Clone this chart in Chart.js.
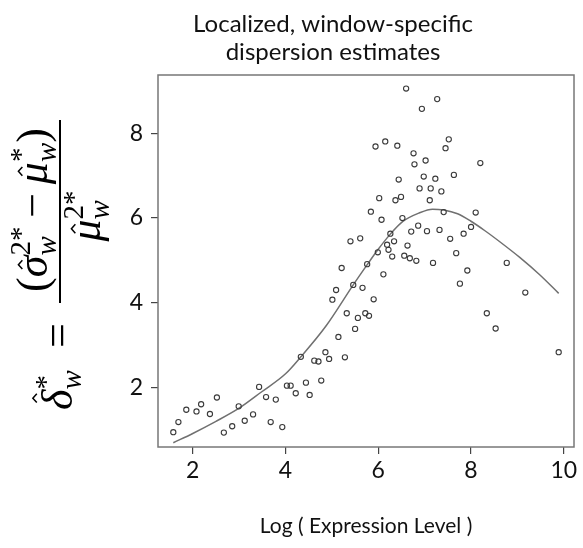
<!DOCTYPE html>
<html>
<head>
<meta charset="utf-8">
<script src="https://cdn.jsdelivr.net/npm/chart.js@4"></script>
<style>
  html, body { margin: 0; padding: 0; background: #fff; }
</style>
</head>
<body>
<canvas id="dispChart" width="583" height="548"></canvas>
<script>
// window level (x) and dispersion estimate (y) for each window
const exprLevel = [1.58,1.69,1.86,2.08,2.18,2.37,2.52,2.67,2.85,2.99,
  3.12,3.30,3.43,3.58,3.68,3.79,3.93,4.03,4.11,4.22,
  4.33,4.44,4.52,4.62,4.71,4.77,4.86,4.94,5.01,5.09,
  5.14,5.21,5.28,5.32,5.40,5.46,5.50,5.56,5.61,5.66,
  5.72,5.80,5.90,5.76,5.84,5.94,5.99,6.02,6.07,6.11,
  6.15,6.19,6.22,6.26,6.30,6.34,6.37,6.41,6.44,6.49,
  6.52,6.56,6.60,6.63,6.68,6.71,6.76,6.78,6.82,6.86,
  6.89,6.94,6.98,7.02,7.05,7.11,7.13,7.18,7.23,7.27,
  7.32,7.36,7.41,7.45,7.52,7.55,7.63,7.68,7.76,7.84,
  7.92,8.00,8.10,8.20,8.34,8.53,8.77,9.17,9.89];
const dispersion = [0.94,1.18,1.47,1.43,1.60,1.37,1.76,0.93,1.08,1.55,
  1.21,1.36,2.01,1.77,1.18,1.71,1.06,2.04,2.04,1.86,
  2.72,2.11,1.82,2.63,2.61,2.16,2.83,2.67,4.07,4.30,
  3.19,4.82,2.71,3.75,5.45,4.42,3.38,3.64,5.52,4.35,
  3.75,3.69,4.08,4.91,6.15,7.69,5.19,6.47,5.96,4.67,
  7.81,5.37,5.25,5.63,5.09,5.45,6.42,7.71,6.91,6.50,
  6.00,5.11,9.06,5.35,5.05,5.68,7.53,7.27,4.99,5.82,
  6.70,8.58,6.98,7.36,5.69,6.42,6.70,4.94,6.93,8.81,
  5.72,6.63,6.14,7.65,7.86,5.51,7.02,5.17,4.45,5.63,
  4.76,5.79,6.13,7.30,3.75,3.39,4.94,4.24,2.83];

// smoothed fit
const fitLevel = [1.58,2.00,2.49,2.99,3.48,4.00,4.33,4.88,5.46,5.75,5.99,6.26,6.53,6.88,7.17,7.41,7.71,7.99,8.30,8.62,9.05,9.48,9.89];
const fitDispersion = [0.69,0.91,1.19,1.50,1.89,2.32,2.72,3.46,4.42,4.88,5.25,5.62,5.92,6.12,6.21,6.19,6.10,5.93,5.70,5.44,5.07,4.66,4.22];

const xTicks = [2, 4, 6, 8, 10];
const yTicks = [2, 4, 6, 8];

const titleLines = ['Localized, window-specific', 'dispersion estimates'];
const xTitle = 'Log ( Expression Level )';

const sans = 'Lato';

function drawHat(ctx, uc, vb, F) {
    ctx.beginPath();
    ctx.moveTo(uc - 0.1 * F, vb);
    ctx.lineTo(uc, vb - 0.09 * F);
    ctx.lineTo(uc + 0.1 * F, vb);
    ctx.lineWidth = 1.5;
    ctx.stroke();
}

// lays out a run of math pieces along the rotated baseline
function mathRun(ctx, items, u0, v0, F, draw) {
    let u = u0;
    items.forEach(it => {
        if (it.scripts) {
            let w = 0;
            it.scripts.forEach(sc => {
                ctx.font = sc.font;
                if (draw) ctx.fillText(sc.t, u, v0 + sc.dy);
                w = Math.max(w, ctx.measureText(sc.t).width);
            });
            u += w;
        } else {
            ctx.font = it.font;
            const w = ctx.measureText(it.t).width;
            u += it.pre || 0;
            if (draw) {
                ctx.fillText(it.t, u, v0);
                if (it.hat) drawHat(ctx, u + w * 0.58, v0 - it.hat * F, F);
            }
            u += w + (it.post || 0);
        }
    });
    return u - u0;
}

function drawFormula(ctx) {
    const F = 44, S = 29;
    const it = s => 'italic ' + s + 'px "Liberation Serif"';
    const rm = s => s + 'px "Liberation Serif"';
    const sc = (sup, sub) => ({ scripts: [
        { t: sup, font: rm(S), dy: -0.38 * F },
        { t: sub, font: it(S), dy: 0.2 * F }
    ] });

    ctx.save();
    ctx.translate(60, 300);
    ctx.rotate(-Math.PI / 2);
    ctx.fillStyle = '#000';
    ctx.strokeStyle = '#000';
    ctx.textBaseline = 'alphabetic';
    ctx.textAlign = 'left';

    const numer = [
        { t: '(', font: rm(F) },
        { t: 'σ', font: it(F), hat: 0.56 },
        sc('2*', 'w'),
        { t: '−', font: rm(F), pre: 0.2 * F, post: 0.2 * F },
        { t: 'μ', font: it(F), hat: 0.56 },
        sc('*', 'w'),
        { t: ')', font: rm(F) }
    ];
    const denom = [
        { t: 'μ', font: it(F), hat: 0.56 },
        sc('2*', 'w')
    ];
    const lhs = [
        { t: 'δ', font: it(F), hat: 0.8 },
        sc('*', 'w')
    ];

    const wn = mathRun(ctx, numer, 0, 0, F, false);
    mathRun(ctx, numer, 90 - wn / 2, -13, F, true);
    const wd = mathRun(ctx, denom, 0, 0, F, false);
    mathRun(ctx, denom, 84 - wd / 2, 40, F, true);

    // fraction bar
    ctx.beginPath();
    ctx.moveTo(-3, 0);
    ctx.lineTo(180, 0);
    ctx.lineWidth = 2;
    ctx.stroke();

    ctx.font = rm(F);
    ctx.fillText('=', -48, 12);
    mathRun(ctx, lhs, -110, 12, F, true);
    ctx.restore();
}

const framePlugin = {
    id: 'frame',
    afterDraw(chart) {
        const ctx = chart.ctx;
        const a = chart.chartArea;
        ctx.save();
        ctx.strokeStyle = '#777';
        ctx.lineWidth = 1.5;
        ctx.strokeRect(a.left, a.top, a.right - a.left, a.bottom - a.top);

        ctx.fillStyle = '#111';
        ctx.textAlign = 'center';
        ctx.textBaseline = 'alphabetic';
        ctx.font = '24px ' + sans;
        ctx.fillText(titleLines[0], 333, 32);
        ctx.fillText(titleLines[1], 333, 60);
        ctx.font = '21px ' + sans;
        ctx.fillText(xTitle, 366, 533);
        ctx.restore();

        drawFormula(ctx);
    }
};

new Chart(document.getElementById('dispChart'), {
    type: 'scatter',
    data: {
        datasets: [{
            label: 'windows',
            data: exprLevel.map((x, i) => ({ x: x, y: dispersion[i] })),
            pointRadius: 2.6,
            pointBorderWidth: 1.1,
            pointBorderColor: '#3a3a3a',
            pointBackgroundColor: 'rgba(0,0,0,0)',
            order: 1
        }, {
            label: 'fit',
            data: fitLevel.map((x, i) => ({ x: x, y: fitDispersion[i] })),
            showLine: true,
            borderColor: '#707070',
            borderWidth: 1.5,
            pointRadius: 0,
            cubicInterpolationMode: 'monotone',
            order: 2
        }]
    },
    options: {
        responsive: false,
        animation: false,
        layout: { padding: { top: 75, right: 9, left: 0, bottom: 0 } },
        plugins: { legend: { display: false }, tooltip: { enabled: false } },
        scales: {
            x: {
                type: 'linear',
                min: 1.25,
                max: 10.22,
                afterBuildTicks: s => { s.ticks = xTicks.map(v => ({ value: v })); },
                afterFit: s => { s.height = 101; },
                ticks: { color: '#111', font: { family: sans, size: 23 }, padding: 3, maxRotation: 0 },
                grid: { drawOnChartArea: false, drawTicks: true, tickLength: 7, color: '#444', lineWidth: 1.2 },
                border: { display: false }
            },
            y: {
                type: 'linear',
                min: 0.59,
                max: 9.38,
                afterBuildTicks: s => { s.ticks = yTicks.map(v => ({ value: v })); },
                afterFit: s => { s.width = 158; },
                ticks: { color: '#111', font: { family: sans, size: 23 }, padding: 8 },
                grid: { drawOnChartArea: false, drawTicks: true, tickLength: 7, color: '#444', lineWidth: 1.2 },
                border: { display: false }
            }
        }
    },
    plugins: [framePlugin]
});
</script>
</body>
</html>
